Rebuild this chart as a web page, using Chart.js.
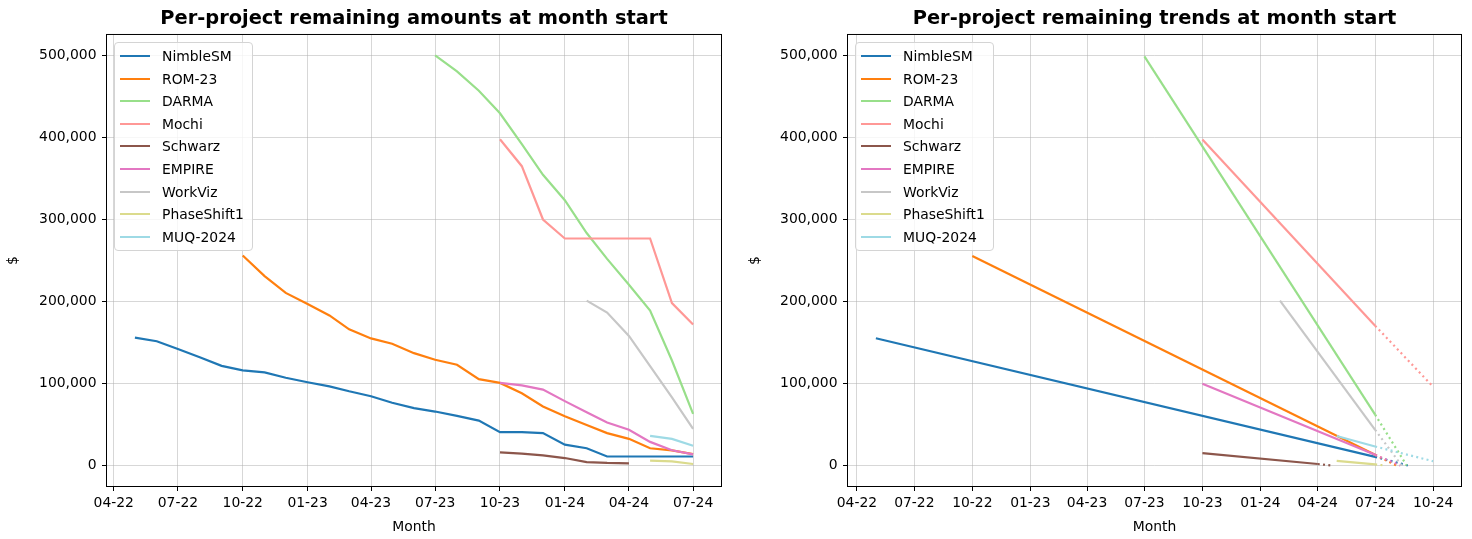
<!DOCTYPE html>
<html>
<head>
<meta charset="utf-8">
<script src="https://cdn.jsdelivr.net/npm/chart.js@4.4.0/dist/chart.umd.min.js"></script>
<style>
  html, body { margin: 0; padding: 0; background: #fff; }
  #wrap { position: relative; width: 1472px; height: 539px; overflow: hidden; }
  .panel { position: absolute; top: 0; width: 736px; height: 539px; }
  .legend { position: absolute; box-sizing: border-box; background: rgba(255,255,255,0.8);
            border: 1px solid #d4d4d4; border-radius: 4px;
            font-family: 'DejaVu Sans', sans-serif; font-size: 13.9px; color: #000; }
  .legend .sw { position: absolute; height: 2px; width: 30px; left: 5px; }
  .legend .lbl { position: absolute; left: 47px; line-height: 16px; white-space: nowrap; }
</style>
</head>
<body>
<div id="wrap">
  <div class="panel" id="p1" style="left:0"><canvas id="c1" width="736" height="539"></canvas></div>
  <div class="panel" id="p2" style="left:736px"><canvas id="c2" width="736" height="539"></canvas></div>
</div>
<script>
  // ---- data ----
  var projects = ['NimbleSM', 'ROM-23', 'DARMA', 'Mochi', 'Schwarz', 'EMPIRE', 'WorkViz', 'PhaseShift1', 'MUQ-2024'];
  var colors = ['#1f77b4', '#ff7f0e', '#98df8a', '#ff9896', '#8c564b', '#e377c2', '#c7c7c7', '#dbdb8d', '#9edae5'];

  // month starts (x categories of the left chart)
  var months = ['2022-05', '2022-06', '2022-07', '2022-08', '2022-09', '2022-10', '2022-11', '2022-12',
                '2023-01', '2023-02', '2023-03', '2023-04', '2023-05', '2023-06', '2023-07', '2023-08',
                '2023-09', '2023-10', '2023-11', '2023-12', '2024-01', '2024-02', '2024-03', '2024-04',
                '2024-05', '2024-06', '2024-07'];

  // remaining amount per month, null = project not running
  var nimbleSM = [156000, 151500, 142000, 132000, 121500, 116000, 113500, 107000, 101500, 96500, 90500, 84500,
                  76500, 70000, 65800, 60500, 54800, 40600, 40600, 39500, 25400, 21100, 11000, 11000, 11000, 11000, 11000];
  var rom23 = [null, null, null, null, null, 256000, 231000, 210500, 197000, 183000, 166000, 155000,
               148500, 137000, 129000, 122800, 105300, 100700, 88000, 72000, 60000, 49500, 39500, 32500, 21000, 18400, 13800];
  var darma = [null, null, null, null, null, null, null, null, null, null, null, null,
               null, null, 500000, 480500, 457000, 429500, 392000, 354500, 323500, 283500, 252000, 220500, 189000, 128000, 63000];
  var mochi = [null, null, null, null, null, null, null, null, null, null, null, null,
               null, null, null, null, null, 397800, 365000, 300000, 276800, 276800, 276800, 276800, 276800, 198000, 172000];
  var schwarz = [null, null, null, null, null, null, null, null, null, null, null, null,
                 null, null, null, null, null, 16000, 14500, 12400, 9100, 4100, 3100, 2700, null, null, null];
  var empire = [null, null, null, null, null, null, null, null, null, null, null, null,
                null, null, null, null, null, 100700, 97800, 92600, 78500, 65000, 52500, 43500, 28800, 18600, 13600];
  var workViz = [null, null, null, null, null, null, null, null, null, null, null, null,
                 null, null, null, null, null, null, null, null, null, 201000, 186500, 158000, 121300, 83200, 44700];
  var phaseShift1 = [null, null, null, null, null, null, null, null, null, null, null, null,
                     null, null, null, null, null, null, null, null, null, null, null, null, 5900, 5100, 1800];
  var muq2024 = [null, null, null, null, null, null, null, null, null, null, null, null,
                 null, null, null, null, null, null, null, null, null, null, null, null, 36200, 32500, 24000];
  var series = [nimbleSM, rom23, darma, mochi, schwarz, empire, workViz, phaseShift1, muq2024];

  // trend lines of the right chart: fitted segment, then dotted projection
  var trendFrom = ['2022-05-01', '2022-10-01', '2023-07-01', '2023-10-01', '2023-10-01', '2023-10-01', '2024-02-01', '2024-05-01', '2024-05-01'];
  var trendFromValue = [155200, 255500, 499000, 397600, 15200, 99800, 201000, 5700, 36000];
  var trendTo = ['2024-07-01', '2024-07-01', '2024-07-01', '2024-07-01', '2024-04-01', '2024-07-01', '2024-07-01', '2024-07-01', '2024-07-01'];
  var trendToValue = [10500, 13000, 62000, 170500, 1800, 13000, 43500, 1300, 23200];
  var projTo = ['2024-08-22', '2024-08-04', '2024-08-20', '2024-10-01', '2024-04-24', '2024-08-10', '2024-08-12', '2024-07-17', '2024-10-01'];
  var projToValue = [0, 0, 0, 96000, 0, 0, 0, 0, 5200];

  // axis ticks
  var xTickDates = ['2022-04', '2022-07', '2022-10', '2023-01', '2023-04', '2023-07', '2023-10', '2024-01', '2024-04', '2024-07', '2024-10'];
  var xTickLabels = ['04-22', '07-22', '10-22', '01-23', '04-23', '07-23', '10-23', '01-24', '04-24', '07-24', '10-24'];
  var yTicks = [0, 100000, 200000, 300000, 400000, 500000];
  var yMin = -25000, yMax = 525000;

  // ---- helpers ----
  function dayNum(s) {
    var p = s.split('-').map(Number);
    return Date.UTC(p[0], p[1] - 1, p[2] || 1) / 86400000;
  }

  Chart.defaults.font.family = "'DejaVu Sans', sans-serif";
  Chart.defaults.font.size = 13.9;
  Chart.defaults.color = '#000';

  var gridColor = 'rgba(176,176,176,0.5)';

  var framePlugin = {
    id: 'frame',
    afterDraw: function (chart) {
      var a = chart.chartArea, ctx = chart.ctx;
      ctx.save();
      ctx.strokeStyle = '#000';
      ctx.lineWidth = 1;
      ctx.strokeRect(a.left - 0.5, a.top - 0.5, a.right - a.left + 1, a.bottom - a.top + 1);
      ctx.restore();
    }
  };

  function makeOptions(title, nTicks, xMin, xMax, yAxisWidth, dollarPad, rightPad) {
    var tickVals = xTickDates.slice(0, nTicks).map(dayNum);
    return {
      responsive: false,
      animation: false,
      events: [],
      layout: { padding: { left: 0, right: rightPad, top: 0, bottom: 0 } },
      plugins: {
        legend: { display: false },
        tooltip: { enabled: false },
        title: {
          display: true, text: title, fullSize: false, color: '#000',
          font: { size: 19.4, weight: 'bold' },
          padding: { top: 7.4, bottom: 4.3 }
        }
      },
      scales: {
        x: {
          type: 'linear', min: xMin, max: xMax,
          afterBuildTicks: function (s) { s.ticks = tickVals.map(function (v) { return { value: v }; }); },
          afterFit: function (s) { s.height = 53; },
          ticks: {
            autoSkip: false, maxRotation: 0, padding: 4.5, color: '#000',
            callback: function (v, i) { return xTickLabels[i]; }
          },
          grid: { color: gridColor, lineWidth: 1, tickLength: 5, tickColor: '#000', tickWidth: 1 },
          border: { display: false },
          title: { display: true, text: 'Month', color: '#000', padding: { top: 0, bottom: 3.7 } }
        },
        y: {
          type: 'linear', min: yMin, max: yMax,
          afterBuildTicks: function (s) { s.ticks = yTicks.map(function (v) { return { value: v }; }); },
          afterFit: function (s) { s.width = yAxisWidth; },
          ticks: {
            padding: 5.5, color: '#000',
            callback: function (v) { return v.toLocaleString('en-US'); }
          },
          grid: { color: gridColor, lineWidth: 1, tickLength: 5, tickColor: '#000', tickWidth: 1 },
          border: { display: false },
          title: { display: true, text: '$', color: '#000', padding: { top: dollarPad, bottom: 0 } }
        }
      }
    };
  }

  function buildLegend(chart, host) {
    var a = chart.chartArea;
    var box = document.createElement('div');
    box.className = 'legend';
    box.style.left = (a.left + 7) + 'px';
    box.style.top = (a.top + 7.5) + 'px';
    box.style.width = '139px';
    box.style.height = '209px';
    chart.data.datasets.forEach(function (ds, i) {
      var cy = 12.5 + 22.6 * i;
      var sw = document.createElement('div');
      sw.className = 'sw';
      sw.style.top = (cy - 1) + 'px';
      sw.style.background = ds.borderColor;
      var lb = document.createElement('div');
      lb.className = 'lbl';
      lb.style.top = (cy - 8) + 'px';
      lb.textContent = ds.label;
      box.appendChild(sw);
      box.appendChild(lb);
    });
    host.appendChild(box);
  }

  // ---- left chart: actual remaining amounts ----
  var leftSets = projects.map(function (name, i) {
    var pts = [];
    months.forEach(function (m, j) {
      if (series[i][j] !== null) pts.push({ x: dayNum(m), y: series[i][j] });
    });
    return {
      label: name, data: pts, borderColor: colors[i], backgroundColor: colors[i],
      borderWidth: 2.2, pointRadius: 0, tension: 0, fill: false, order: -i
    };
  });
  var lMin = dayNum(months[0]), lMax = dayNum(months[months.length - 1]);
  var lPad = (lMax - lMin) * 0.05;

  var chart1 = new Chart(document.getElementById('c1'), {
    type: 'line',
    data: { datasets: leftSets },
    options: makeOptions('Per-project remaining amounts at month start', 10, lMin - lPad, lMax + lPad, 107, 4.7, 15),
    plugins: [framePlugin]
  });
  buildLegend(chart1, document.getElementById('p1'));

  // ---- right chart: trends with dotted projection ----
  var rightSets = projects.map(function (name, i) {
    return {
      label: name,
      data: [
        { x: dayNum(trendFrom[i]), y: trendFromValue[i] },
        { x: dayNum(trendTo[i]), y: trendToValue[i] },
        { x: dayNum(projTo[i]), y: projToValue[i] }
      ],
      borderColor: colors[i], backgroundColor: colors[i],
      borderWidth: 2.2, pointRadius: 0, tension: 0, fill: false, order: -i,
      segment: {
        borderDash: function (ctx) { return ctx.p0DataIndex === 1 ? [2, 3.3] : undefined; }
      }
    };
  });
  var rMin = Math.min.apply(null, trendFrom.map(dayNum));
  var rMax = Math.max.apply(null, projTo.map(dayNum));
  var rPad = (rMax - rMin) * 0.05;

  var chart2 = new Chart(document.getElementById('c2'), {
    type: 'line',
    data: { datasets: rightSets },
    options: makeOptions('Per-project remaining trends at month start', 11, rMin - rPad, rMax + rPad, 112, 10.7, 11),
    plugins: [framePlugin]
  });
  buildLegend(chart2, document.getElementById('p2'));
</script>
</body>
</html>
